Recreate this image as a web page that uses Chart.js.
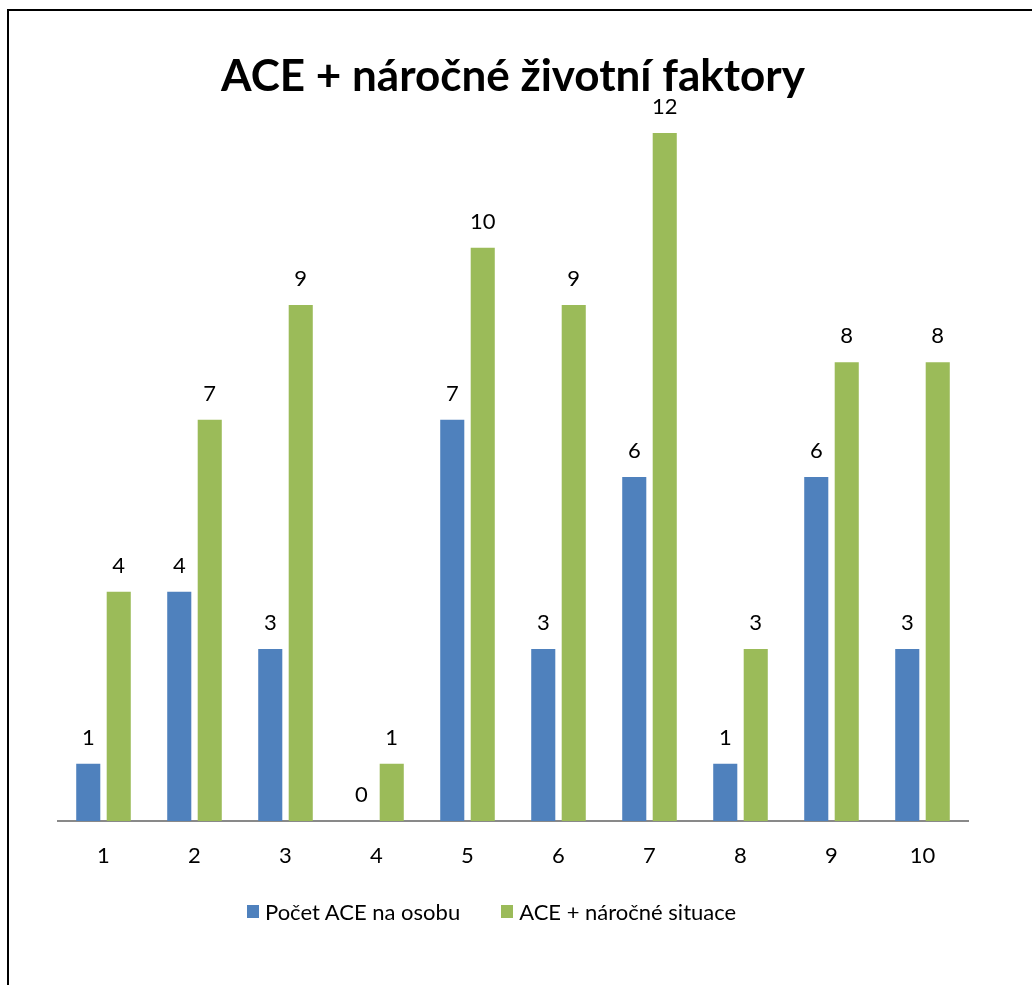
<!DOCTYPE html>
<html><head><meta charset="utf-8">
<script src="https://cdn.jsdelivr.net/npm/chart.js@4"></script>
<style>
html,body{margin:0;padding:0;background:#fff;overflow:hidden;}
#wrap{position:relative;width:1032px;height:985px;overflow:hidden;}
#frame{position:absolute;left:7px;top:9px;width:1100px;height:1100px;border:2px solid #000;box-sizing:border-box;pointer-events:none;}
canvas{position:absolute;left:0;top:0;}
#legend{position:absolute;left:247px;top:899px;display:flex;gap:41px;font-family:Lato,"Open Sans",sans-serif;font-size:22px;line-height:26px;color:#000;white-space:nowrap;}
#legend .item{display:flex;align-items:center;}
#legend .box{width:12px;height:13px;margin-right:6px;margin-top:-2px;}
</style></head><body>
<div id="wrap"><canvas id="c" width="1032" height="985"></canvas><div id="frame"></div><div id="legend"></div></div>
<script>
const categories = ['1','2','3','4','5','6','7','8','9','10'];
const seriesNames = ['Počet ACE na osobu', 'ACE + náročné situace'];
const aceCount = [1, 4, 3, 0, 7, 3, 6, 1, 6, 3];
const aceSituations = [4, 7, 9, 1, 10, 9, 12, 3, 8, 8];
const seriesColors = ['#4F81BD', '#9BBB59'];
const chartTitle = 'ACE + náročné životní faktory';

const FONT = 'Lato, "Open Sans", sans-serif';

const valueLabels = {
  id: 'valueLabels',
  afterDatasetsDraw(chart) {
    const ctx = chart.ctx;
    ctx.save();
    ctx.font = '22px ' + FONT;
    ctx.fillStyle = '#000';
    ctx.textAlign = 'center';
    ctx.textBaseline = 'alphabetic';
    chart.data.datasets.forEach((ds, i) => {
      const meta = chart.getDatasetMeta(i);
      meta.data.forEach((el, j) => {
        ctx.fillText(String(ds.data[j]), el.x, el.y - 19);
      });
    });
    ctx.restore();
  }
};

const chart = new Chart(document.getElementById('c'), {
  type: 'bar',
  data: {
    labels: categories,
    datasets: [
      { label: seriesNames[0], data: aceCount, backgroundColor: seriesColors[0], categoryPercentage: 0.67, barPercentage: 0.79 },
      { label: seriesNames[1], data: aceSituations, backgroundColor: seriesColors[1], categoryPercentage: 0.67, barPercentage: 0.79 }
    ]
  },
  options: {
    responsive: false,
    animation: false,
    layout: { padding: { left: 58, right: 64, top: 0, bottom: 93.6 } },
    plugins: {
      title: {
        display: true,
        text: chartTitle,
        color: '#000',
        font: { family: FONT, size: 44, weight: 'bold' },
        padding: { top: 50.6, bottom: 29.6 }
      },
      legend: { display: false },
      tooltip: { enabled: false }
    },
    scales: {
      x: {
        grid: { display: false, drawTicks: false },
        border: { display: true, color: '#898989', width: 2 },
        ticks: { color: '#000', font: { family: FONT, size: 22 }, padding: 22 }
      },
      y: {
        display: false,
        min: 0, max: 12
      }
    }
  },
  plugins: [valueLabels]
});

// HTML legend built from the datasets
const legendEl = document.getElementById('legend');
chart.data.datasets.forEach(ds => {
  const item = document.createElement('div');
  item.className = 'item';
  const box = document.createElement('span');
  box.className = 'box';
  box.style.background = ds.backgroundColor;
  const txt = document.createElement('span');
  txt.textContent = ds.label;
  item.appendChild(box);
  item.appendChild(txt);
  legendEl.appendChild(item);
});
</script>
</body></html>
